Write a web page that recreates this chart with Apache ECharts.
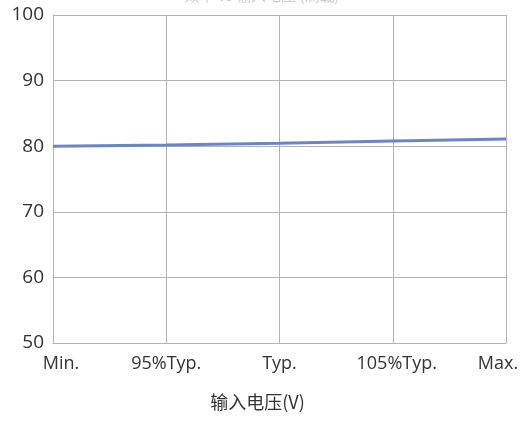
<!DOCTYPE html>
<html><head><meta charset="utf-8">
<script src="https://cdn.jsdelivr.net/npm/echarts@6/dist/echarts.min.js"></script>
<style>html,body{margin:0;padding:0;background:#fff}#c{width:524px;height:421px}</style>
</head><body><div id="c"></div>
<script>
const categories = ['Min.', '95%Typ.', 'Typ.', '105%Typ.', 'Max.'];
const efficiency = [80.0, 80.2, 80.45, 80.8, 81.1];
const yTicks = [50, 60, 70, 80, 90, 100];
const xAxisName = '输入电压(V)';
const titleText = '效率 vs 输入电压 (满载)';

const labelRich = {
  first: {padding: [0, 0, 0, 16]},
  mid: {},
  shift: {padding: [0, 0, 0, 8]},
  last: {padding: [0, 16, 0, 0]}
};

const chart = echarts.init(document.getElementById('c'), null, {renderer: 'canvas'});
chart.setOption({
  animation: false,
  backgroundColor: '#fff',
  title: {text: titleText, left: 'center', top: -17,
    textStyle: {fontFamily: 'Noto Sans CJK SC', fontSize: 15, fontWeight: 'normal', color: '#ccc'}},
  grid: {left: 53, right: 18, top: 15, bottom: 78},
  xAxis: {
    type: 'category', data: categories, boundaryGap: false,
    name: xAxisName, nameLocation: 'middle', nameGap: 50,
    nameTextStyle: {fontFamily: 'Noto Sans CJK SC', fontSize: 18, color: '#333', padding: [0, 44, 0, 0]},
    axisLine: {lineStyle: {color: '#b3b3b3', width: 1}},
    axisTick: {show: false},
    axisLabel: {interval: 0, hideOverlap: false, fontFamily: 'Open Sans', fontSize: 18, color: '#333', margin: 12,
      formatter: function (v, i) {
        const k = i === 0 ? 'first' : (i === categories.length - 1 ? 'last' : (i === 3 ? 'shift' : 'mid'));
        return '{' + k + '|' + v + '}';
      },
      rich: labelRich},
    splitLine: {show: true, interval: 0, lineStyle: {color: '#b3b3b3', width: 1}}
  },
  yAxis: {
    type: 'value', min: yTicks[0], max: yTicks[yTicks.length-1], interval: 10,
    axisLine: {show: true, lineStyle: {color: '#b3b3b3', width: 1}},
    axisTick: {show: false},
    axisLabel: {fontFamily: 'Open Sans', fontSize: 19, color: '#333', margin: 9},
    splitLine: {show: true, lineStyle: {color: '#b3b3b3', width: 1}}
  },
  series: [{
    type: 'line', data: efficiency, symbol: 'none',
    lineStyle: {color: '#6b86c8', width: 3},
    itemStyle: {color: '#6b86c8'}
  }]
});
</script></body></html>
